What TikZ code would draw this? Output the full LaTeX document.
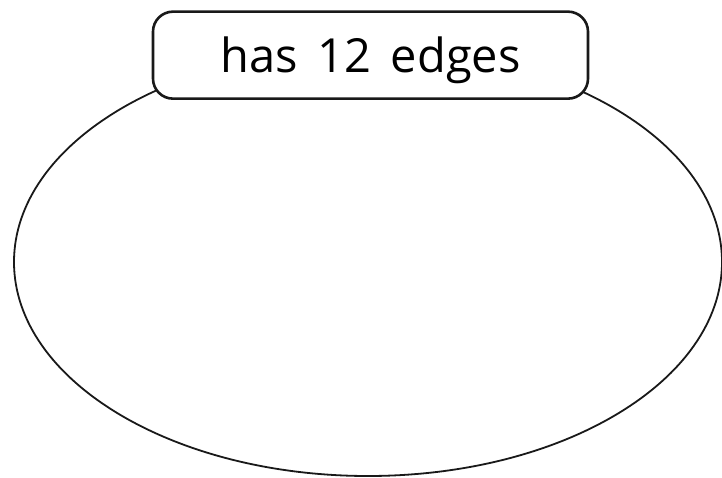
\documentclass[tikz,border=0pt]{standalone}
\usepackage{fontspec}
\setmainfont{Open Sans}
\usetikzlibrary{shapes.geometric}
\begin{document}
\begin{tikzpicture}[x=1pt,y=1pt,
  outline/.style={draw=black!90,line width=1.8pt},
  labelbox/.style={draw=black!90,line width=2.6pt,fill=white,rounded corners=20pt,
    minimum width=435pt,minimum height=87pt,inner sep=0pt,text depth=0pt,
    font=\fontsize{47}{52}\selectfont}]
\useasboundingbox (0,0) rectangle (722,477);
\node[outline,ellipse,minimum width=708pt,minimum height=428pt,inner sep=0pt] (set) at (368,215) {};
\node[labelbox,anchor=base] (lbl) at (370.5,404) {has\hspace{0.42em}12\hspace{0.42em}edges};
\end{tikzpicture}
\end{document}
